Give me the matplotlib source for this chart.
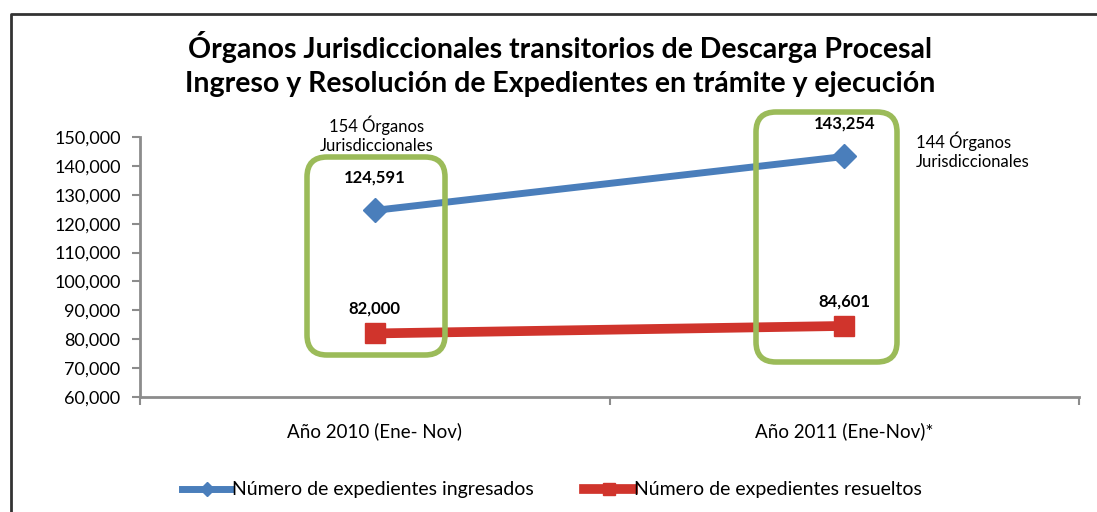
import matplotlib.pyplot as plt
from matplotlib.patches import FancyBboxPatch
import matplotlib.ticker as mticker
from matplotlib.transforms import Affine2D

plt.rcParams['font.family'] = ['Lato', 'DejaVu Sans']

periodos = ['Año 2010 (Ene- Nov)', 'Año 2011 (Ene-Nov)*']
ingresados = [124591, 143254]
resueltos = [82000, 84601]
organos = ['154 Órganos\nJurisdiccionales', '144 Órganos\nJurisdiccionales']

azul = '#4a7ebb'
rojo = '#d0342c'
verde = '#9bbb59'
gris = '#8c8c8c'

W, H = 1097, 512
fig = plt.figure(figsize=(W / 100, H / 100), dpi=100)
ax = fig.add_axes([140 / W, 1 - 397 / H, (1079 - 140) / W, 260 / H])

x = [0.5, 1.5]
ax.plot(x, ingresados, color=azul, lw=5, marker='D', markersize=12,
        label='Número de expedientes ingresados', zorder=4)
ax.plot(x, resueltos, color=rojo, lw=7, marker='s', markersize=15,
        label='Número de expedientes resueltos', zorder=4)

for xi, v in zip(x, ingresados):
    ax.annotate(f'{v:,}', (xi, v), xytext=(0, 18), textcoords='offset points',
                ha='center', va='bottom', fontsize=12, fontweight='bold')
for xi, v in zip(x, resueltos):
    ax.annotate(f'{v:,}', (xi, v), xytext=(0, 12), textcoords='offset points',
                ha='center', va='bottom', fontsize=12, fontweight='bold')

ax.set_xlim(0, 2)
ax.set_ylim(60000, 150000)
ax.yaxis.set_major_locator(mticker.MultipleLocator(10000))
ax.yaxis.set_major_formatter(mticker.StrMethodFormatter('{x:,.0f}'))
ax.set_xticks([0, 1, 2])
ax.set_xticklabels([])
ax.set_xticks(x, minor=True)
ax.set_xticklabels(periodos, minor=True)
ax.tick_params(axis='x', which='minor', length=0, pad=18, labelsize=13.5)
ax.tick_params(axis='x', which='major', length=6, color=gris, width=1.5)
ax.tick_params(axis='y', length=6, color=gris, width=1.5, labelsize=13, pad=8)
for s in ['top', 'right']:
    ax.spines[s].set_visible(False)
for s in ['left', 'bottom']:
    ax.spines[s].set_color(gris)
    ax.spines[s].set_linewidth(2)

# green rounded boxes, given in pixel coordinates of the image (y from top)
pix = Affine2D().scale(1, -1).translate(0, H)

def caja(x0, y0, x1, y1):
    p = FancyBboxPatch((x0, y0), x1 - x0, y1 - y0,
                       boxstyle='round,pad=0,rounding_size=20',
                       transform=pix, fill=False,
                       edgecolor=verde, lw=4, zorder=5)
    fig.patches.append(p)

caja(307, 157, 445, 355)
caja(756, 112, 897, 362)

fig.text(377 / W, 1 - 135 / H, organos[0], ha='center', va='center', fontsize=12,
         linespacing=1.25)
fig.text(916 / W, 1 - 151 / H, organos[1], ha='left', va='center', fontsize=12,
         linespacing=1.25)

fig.text(560 / W, 1 - 64 / H,
         'Órganos Jurisdiccionales transitorios de Descarga Procesal\n'
         'Ingreso y Resolución de Expedientes en trámite y ejecución',
         ha='center', va='center', fontsize=20.5, fontweight='bold',
         linespacing=1.4)

ax.legend(loc='center', bbox_to_anchor=(552 / W, 1 - 490 / H), bbox_transform=fig.transFigure,
          ncol=2, frameon=False, fontsize=14, handlelength=2.5, handletextpad=0.05,
          columnspacing=2.6, markerscale=0.6)

# outer frame
fig.add_artist(plt.Line2D([11 / W, 11 / W, 1], [0, 1 - 14 / H, 1 - 14 / H],
                          transform=fig.transFigure, color='#333333', lw=2))

fig.savefig('out.png', dpi=100)
